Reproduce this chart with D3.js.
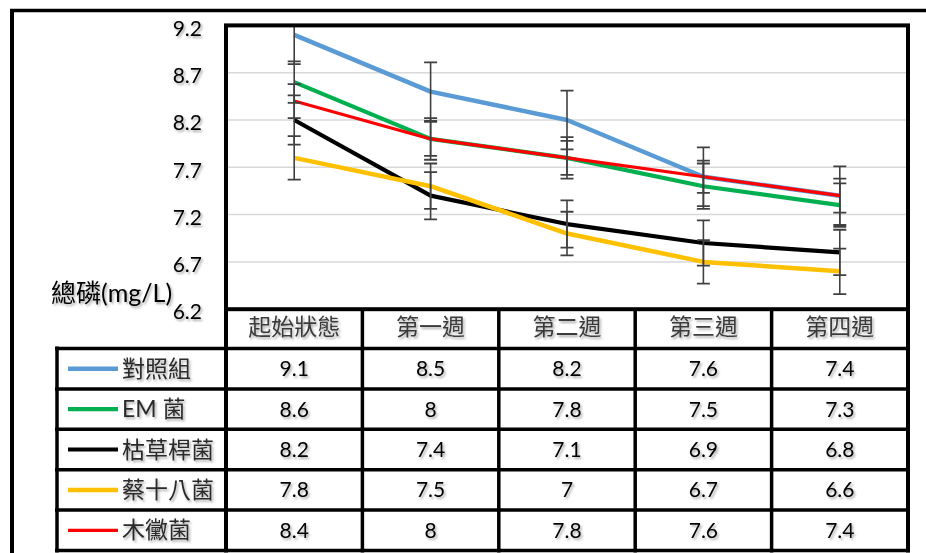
<!DOCTYPE html>
<html>
<head>
<meta charset="utf-8">
<script src="https://cdn.jsdelivr.net/npm/d3@7/dist/d3.min.js"></script>
<style>
  html, body { margin: 0; padding: 0; background: #fff; }
  svg { display: block; }
</style>
</head>
<body>
<svg id="chart" width="926" height="553"></svg>
<script>
// ---------------- DATA ----------------
const categories = ["起始狀態", "第一週", "第二週", "第三週", "第四週"];
const seriesNames = ["對照組", "EM 菌", "枯草桿菌", "蔡十八菌", "木黴菌"];
const seriesColors = ["#5b9bd5", "#00b050", "#000000", "#ffc000", "#ff0000"];

const controlValues     = [9.1, 8.5, 8.2, 7.6, 7.4];
const emValues          = [8.6, 8, 7.8, 7.5, 7.3];
const bacillusValues    = [8.2, 7.4, 7.1, 6.9, 6.8];
const cai18Values       = [7.8, 7.5, 7, 6.7, 6.6];
const trichodermaValues = [8.4, 8, 7.8, 7.6, 7.4];

const controlErr     = [0.31, 0.31, 0.31, 0.31, 0.31];
const emErr          = [0.22, 0.22, 0.22, 0.24, 0.23];
const bacillusErr    = [0.26, 0.25, 0.25, 0.24, 0.24];
const cai18Err       = [0.23, 0.24, 0.23, 0.23, 0.24];
const trichodermaErr = [0.18, 0.18, 0.18, 0.17, 0.18];

const yTicks = [6.2, 6.7, 7.2, 7.7, 8.2, 8.7, 9.2];
const yTitle = "總磷(mg/L)";

const series = [
  { name: seriesNames[0], color: seriesColors[0], values: controlValues,     err: controlErr,     width: 4.5 },
  { name: seriesNames[1], color: seriesColors[1], values: emValues,          err: emErr,          width: 4.2 },
  { name: seriesNames[2], color: seriesColors[2], values: bacillusValues,    err: bacillusErr,    width: 4.2 },
  { name: seriesNames[3], color: seriesColors[3], values: cai18Values,       err: cai18Err,       width: 4.5 },
  { name: seriesNames[4], color: seriesColors[4], values: trichodermaValues, err: trichodermaErr, width: 3.2 }
];

// ---------------- LAYOUT ----------------
const svg = d3.select("#chart");
const plotL = 226, plotR = 908, plotT = 25.4, plotB = 309.2;
const tableLeft = 57, tableTop = 348.5, rowH = 40.4;
const numFont = "Lato, 'Open Sans', 'Noto Sans CJK TC', sans-serif";
const cjkFont = "'Noto Sans CJK TC', 'Noto Sans CJK SC', sans-serif";

const defs = svg.append("defs");
const f = defs.append("filter").attr("id", "sh").attr("x", "-20%").attr("y", "-30%").attr("width", "150%").attr("height", "170%");
f.append("feDropShadow").attr("dx", 1.6).attr("dy", 2).attr("stdDeviation", 1.3)
  .attr("flood-color", "#000").attr("flood-opacity", 0.33);
defs.append("clipPath").attr("id", "plotclip").append("rect")
  .attr("x", plotL).attr("y", plotT).attr("width", plotR - plotL).attr("height", plotB - plotT);

const x = d3.scaleBand().domain(categories).range([plotL, plotR]).padding(0);
const y = d3.scaleLinear().domain([6.2, 9.2]).range([plotB, plotT]);

// Outer frame (top and left)
svg.append("line").attr("x1", 10).attr("x2", 926).attr("y1", 10.5).attr("y2", 10.5)
  .attr("stroke", "#000").attr("stroke-width", 3.5);
svg.append("line").attr("x1", 12).attr("x2", 12).attr("y1", 9).attr("y2", 553)
  .attr("stroke", "#000").attr("stroke-width", 4);

// Gridlines
svg.append("g").selectAll("line").data(yTicks.slice(1, -1)).join("line")
  .attr("x1", plotL).attr("x2", plotR)
  .attr("y1", d => y(d)).attr("y2", d => y(d))
  .attr("stroke", "#d9d9d9").attr("stroke-width", 1.5);

// Y axis labels
const yAxis = d3.axisLeft(y).tickValues(yTicks).tickFormat(d3.format(".1f")).tickSize(0).tickPadding(0);
const yg = svg.append("g").attr("transform", `translate(202,3)`).call(yAxis);
yg.select(".domain").remove();
yg.selectAll("text").attr("font-family", numFont).attr("font-size", 21).attr("fill", "#000")
  .attr("filter", "url(#sh)");

// Y title
svg.append("text").attr("x", 51).attr("y", 302).text(yTitle)
  .attr("font-family", numFont).attr("font-size", 25).attr("fill", "#000")
  .attr("filter", "url(#sh)");

// Lines
const line = d3.line().x((d, i) => x(categories[i]) + x.bandwidth() / 2).y(d => y(d));
const lg = svg.append("g").attr("clip-path", "url(#plotclip)");
series.forEach(s => {
  lg.append("path").datum(s.values).attr("d", line)
    .attr("fill", "none").attr("stroke", s.color).attr("stroke-width", s.width)
    .attr("stroke-linejoin", "round");
});

// Error bars
const eg = svg.append("g").attr("clip-path", "url(#plotclip)");
series.forEach(s => {
  s.values.forEach((v, i) => {
    const cx = x(categories[i]) + x.bandwidth() / 2;
    const hi = y(v + s.err[i]), lo = y(v - s.err[i]);
    eg.append("line").attr("x1", cx).attr("x2", cx).attr("y1", hi).attr("y2", lo)
      .attr("stroke", "#404040").attr("stroke-width", 1.6);
    [hi, lo].forEach(yy => {
      eg.append("line").attr("x1", cx - 6.5).attr("x2", cx + 6.5).attr("y1", yy).attr("y2", yy)
        .attr("stroke", "#404040").attr("stroke-width", 1.8);
    });
  });
});

// Plot frame
svg.append("rect").attr("x", plotL).attr("y", plotT).attr("width", plotR - plotL).attr("height", plotB - plotT)
  .attr("fill", "none").attr("stroke", "#000").attr("stroke-width", 4);

// ---------------- TABLE ----------------
const tableBottom = tableTop + rowH * series.length;
const tg = svg.append("g");
// Header labels
tg.selectAll("text.hdr").data(categories).join("text").attr("class", "hdr")
  .attr("x", d => x(d) + x.bandwidth() / 2).attr("y", 335)
  .attr("text-anchor", "middle").attr("font-family", cjkFont).attr("font-size", 23)
  .attr("fill", "#3a3a3a").attr("filter", "url(#sh)").text(d => d);

// Horizontal lines
d3.range(series.length + 1).forEach(r => {
  const yy = tableTop + r * rowH;
  tg.append("line").attr("x1", tableLeft - 2).attr("x2", plotR + 2).attr("y1", yy).attr("y2", yy)
    .attr("stroke", "#000").attr("stroke-width", 3.5);
});
// Vertical lines
tg.append("line").attr("x1", tableLeft).attr("x2", tableLeft).attr("y1", tableTop - 2).attr("y2", tableBottom + 2)
  .attr("stroke", "#000").attr("stroke-width", 3.5);
const colEdges = categories.map(c => x(c)).concat([plotR]);
colEdges.forEach(cx => {
  tg.append("line").attr("x1", cx).attr("x2", cx).attr("y1", plotB).attr("y2", tableBottom + 2)
    .attr("stroke", "#000").attr("stroke-width", cx === plotL || cx === plotR ? 4 : 3.5);
});

// Rows
series.forEach((s, r) => {
  const cy = tableTop + r * rowH + rowH / 2;
  tg.append("line").attr("x1", 68).attr("x2", 118).attr("y1", cy).attr("y2", cy)
    .attr("stroke", s.color).attr("stroke-width", s.width);
  tg.append("text").attr("x", 122).attr("y", cy + 8).text(s.name)
    .attr("font-family", "Lato, 'Noto Sans CJK TC', sans-serif").attr("font-size", 23)
    .attr("fill", "#2a2a2a").attr("filter", "url(#sh)");
  s.values.forEach((v, i) => {
    tg.append("text").attr("x", x(categories[i]) + x.bandwidth() / 2).attr("y", cy + 7.5)
      .attr("text-anchor", "middle").attr("font-family", numFont).attr("font-size", 21)
      .attr("fill", "#000").attr("filter", "url(#sh)").text(String(v));
  });
});
</script>
</body>
</html>
